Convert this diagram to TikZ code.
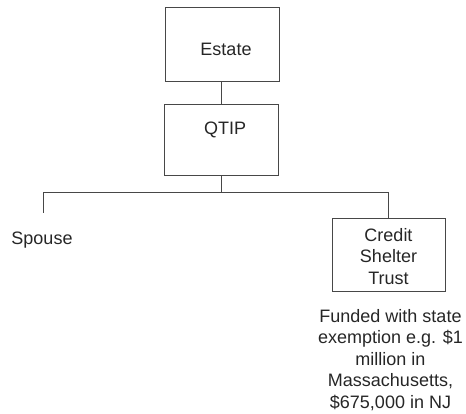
\documentclass[tikz,border=0pt]{standalone}
\usepackage{fontspec}
\setmainfont{Liberation Sans}
\begin{document}
\begin{tikzpicture}[x=1pt,y=-1pt,
  box/.style={draw=black!72, line width=0.8pt, inner sep=0pt, anchor=center},
  lbl/.style={font=\fontsize{18}{22}\selectfont, text=black!85, inner sep=0pt},
  link/.style={draw=black!72, line width=0.8pt}]
\useasboundingbox (0,0) rectangle (466,414);

% boxes of the tree
\node[box, minimum width=114pt, minimum height=74pt] (estate) at (222,44) {};
\node[lbl, anchor=base] (estatetext) at (226,55.5) {Estate};

\node[box, minimum width=114pt, minimum height=71pt] (qtip) at (221,139.5) {};
\node[lbl, anchor=base] (qtiptext) at (225,135) {QTIP};

\node[box, minimum width=113pt, minimum height=73pt] (cst) at (388.5,254.5) {};
\node[lbl, align=center, font=\fontsize{18}{21.5}\selectfont] (csttext) at (388.5,256.5)
      {Credit\\Shelter\\Trust};

% free-standing labels
\node[lbl, anchor=base] (spouse) at (42,245) {Spouse};
\node[lbl, align=center, font=\fontsize{18}{21.5}\selectfont] (note) at (390.5,360)
      {Funded with state\\exemption e.g. \$1\\million in\\Massachusetts,\\\$675,000 in NJ};

% connectors
\coordinate (junction) at (221,192);
\coordinate (lefttip) at (43,213);
\draw[link] (qtip.north) -- (qtip.north |- estate.south);
\draw[link] (qtip.south) -- (junction);
\draw[link] (lefttip) -- (lefttip |- junction) -- (cst.north |- junction) -- (cst.north);
\end{tikzpicture}
\end{document}
